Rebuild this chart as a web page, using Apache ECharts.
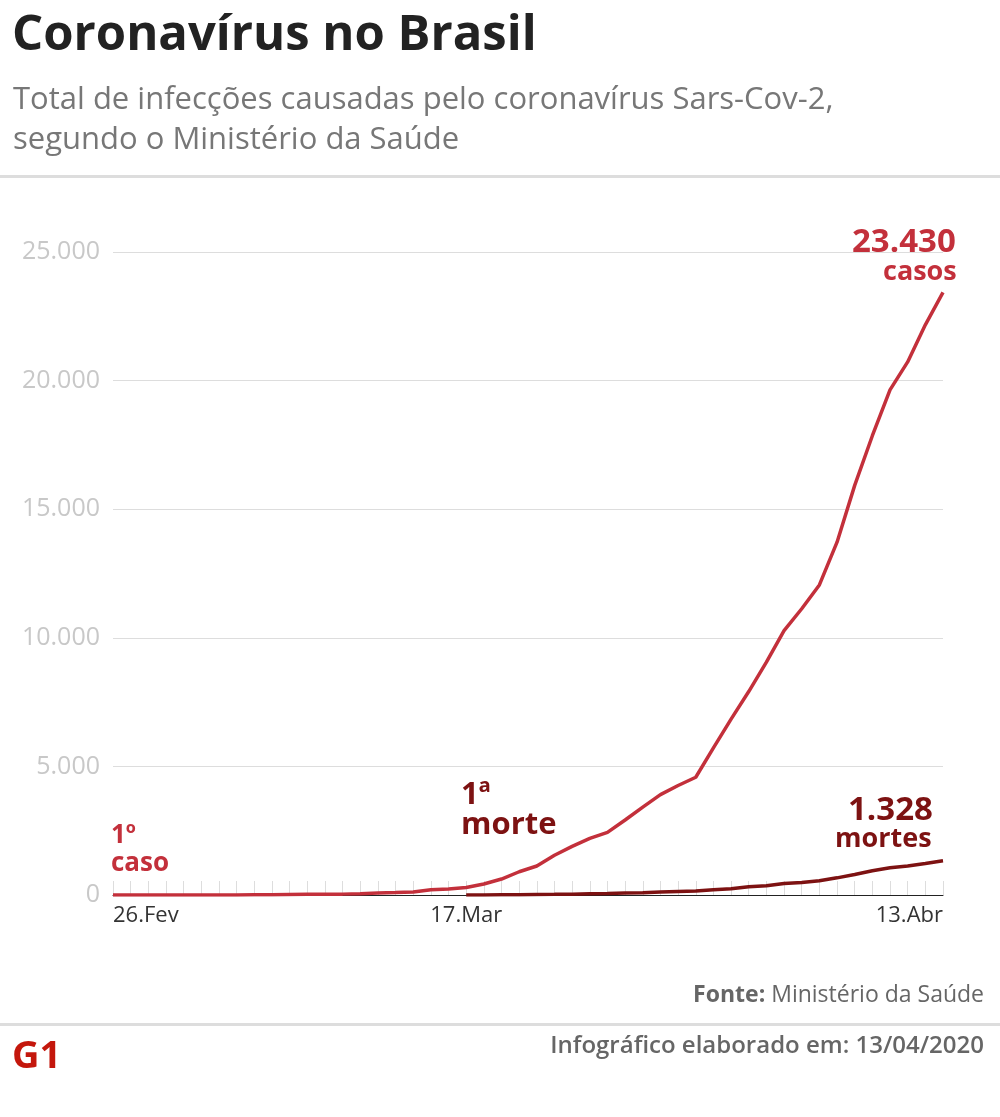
<!DOCTYPE html>
<html>
<head>
<meta charset="utf-8" />
<title>Coronavírus no Brasil</title>
<style>
html, body { margin: 0; background: #fff; }
#chart { width: 1000px; height: 1117px; }
</style>
</head>
<body>
<div id="chart"></div>
<script src="https://cdn.jsdelivr.net/npm/echarts@6/dist/echarts.min.js"></script>
<script>
// dias de 26.Fev a 13.Abr
var dias = ['26.Fev','27.Fev','28.Fev','29.Fev'];
for (var d = 1; d <= 31; d++) dias.push(d + '.Mar');
for (var d = 1; d <= 13; d++) dias.push(d + '.Abr');
var rotulosX = ['26.Fev', '17.Mar', '13.Abr'];

var casos = [1,1,1,2,2,2,2,3,8,13,19,25,25,34,52,77,98,121,200,234,291,428,621,904,1128,1546,1891,2201,2433,2915,3417,3904,4256,4579,5717,6836,7910,9056,10278,11130,12056,13717,15927,17857,19638,20727,22169,23430];
var mortes = [null,null,null,null,null,null,null,null,null,null,null,null,null,null,null,null,null,null,null,null,1,4,7,11,18,25,34,46,57,77,92,114,136,159,201,240,324,359,445,486,553,667,800,941,1056,1124,1223,1328];

var corCasos = '#c3303b', corMortes = '#7d1212';
var font = 'Open Sans';
var chart = echarts.init(document.getElementById('chart'));
chart.setOption({
  animation: false,
  textStyle: { fontFamily: font },
  grid: { left: 113, right: 57, top: 252, bottom: 222 },
  xAxis: {
    type: 'category', data: dias, boundaryGap: false,
    axisLine: { lineStyle: { color: '#222', width: 1 } },
    axisTick: { show: true, inside: true, interval: 0, length: 14, lineStyle: { color: '#ddd' } },
    axisLabel: {
      interval: 0, color: '#333', fontSize: 22, margin: 10, fontFamily: font,
      alignMinLabel: 'left', alignMaxLabel: 'right',
      formatter: function (v) { return rotulosX.indexOf(v) >= 0 ? v : ''; }
    }
  },
  yAxis: {
    type: 'value', min: 0, max: 25000, interval: 5000,
    axisLine: { show: false }, axisTick: { show: false },
    splitLine: { lineStyle: { color: '#ddd' } },
    axisLabel: {
      color: '#c8c8c8', fontSize: 25, margin: 13, fontFamily: font,
      formatter: function (v) { return v === 0 ? '0' : (v / 1000).toFixed(3); }
    }
  },
  series: [
    { name: 'casos', type: 'line', data: casos, showSymbol: false, lineStyle: { color: corCasos, width: 3.5 }, z: 3 },
    { name: 'mortes', type: 'line', data: mortes, showSymbol: false, lineStyle: { color: corMortes, width: 3.5 }, z: 4 }
  ],
  graphic: [
    { type: 'text', left: 12, top: 12, style: { text: 'Coronavírus no Brasil', font: 'bold 49px "Open Sans"', fill: '#222' } },
    { type: 'text', left: 13, top: 80, style: { text: 'Total de infecções causadas pelo coronavírus Sars-Cov-2,\nsegundo o Ministério da Saúde', font: '31px "Open Sans"', fill: '#777', lineHeight: 40 } },
    { type: 'rect', shape: { x: 0, y: 175, width: 1000, height: 3 }, style: { fill: '#ddd' } },
    { type: 'rect', shape: { x: 0, y: 1023, width: 1000, height: 3 }, style: { fill: '#ddd' } },
    { type: 'text', left: 852, top: 226, style: { text: '23.430', font: 'bold 33px "Open Sans"', fill: corCasos } },
    { type: 'text', left: 883, top: 259, style: { text: 'casos', font: 'bold 27px "Open Sans"', fill: corCasos } },
    { type: 'text', left: 848, top: 794, style: { text: '1.328', font: 'bold 33px "Open Sans"', fill: corMortes } },
    { type: 'text', left: 835, top: 826, style: { text: 'mortes', font: 'bold 27px "Open Sans"', fill: corMortes } },
    { type: 'text', left: 111, top: 822, style: { text: '1º\ncaso', font: 'bold 26px "Open Sans"', fill: corCasos, lineHeight: 28 } },
    { type: 'text', left: 461, top: 780, style: { text: '1ª\nmorte', font: 'bold 31px "Open Sans"', fill: corMortes, lineHeight: 30 } },
    { type: 'text', right: 16, top: 984, style: { text: '{b|Fonte:} Ministério da Saúde', font: '23px "Open Sans"', fill: '#666', rich: { b: { fontWeight: 'bold', fontSize: 23, fontFamily: font, fill: '#666' } } } },
    { type: 'text', right: 16, top: 1034, style: { text: 'Infográfico elaborado em: 13/04/2020', font: '600 24px "Open Sans"', fill: '#666' } },
    { type: 'text', left: 12, top: 1038, style: { text: 'G1', font: 'bold 38px "Open Sans"', fill: '#c4170c' } }
  ]
});
</script>
</body>
</html>
